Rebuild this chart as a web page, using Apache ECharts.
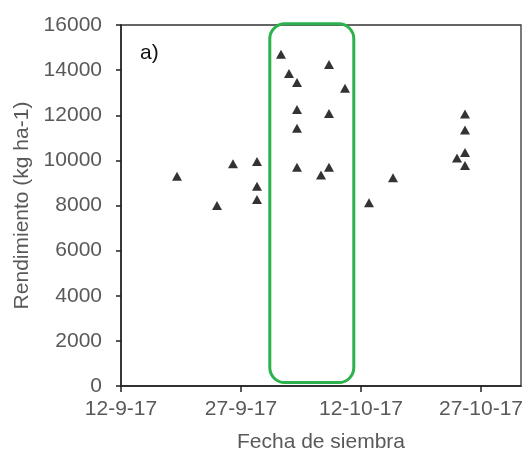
<!DOCTYPE html>
<html>
<head>
<meta charset="utf-8">
<script src="https://cdn.jsdelivr.net/npm/echarts@6/dist/echarts.min.js"></script>
<style>
    html, body { margin: 0; padding: 0; background: #fff; }
    #chart1 { width: 527px; height: 451px; }
</style>
</head>
<body>
<div id="chart1"></div>
<script>
    // fechas de siembra y rendimiento (kg ha-1)
    const startDate = '2017-09-12';
    const sowDates = [
        '2017-09-19', '2017-09-24', '2017-09-26',
        '2017-09-29', '2017-09-29', '2017-09-29',
        '2017-10-02', '2017-10-03',
        '2017-10-04', '2017-10-04', '2017-10-04', '2017-10-04',
        '2017-10-07',
        '2017-10-08', '2017-10-08', '2017-10-08',
        '2017-10-10', '2017-10-13', '2017-10-16',
        '2017-10-24',
        '2017-10-25', '2017-10-25', '2017-10-25', '2017-10-25'
    ];
    const yields = [
        9300, 8000, 9850,
        9950, 8850, 8270,
        14700, 13850,
        13450, 12250, 11420, 9700,
        9350,
        14250, 12080, 9700,
        13200, 8120, 9230,
        10100,
        12050, 11350, 10350, 9770
    ];
    const xTickDays = [0, 15, 30, 45];
    const xMaxDay = 50;
    // recuadro verde: rango de dias y de rendimiento
    const boxDays = [18.6, 29.1];
    const boxYield = [150, 16050];

    function toUTC(s) {
        const p = s.split('-');
        return Date.UTC(+p[0], +p[1] - 1, +p[2]);
    }
    const t0 = toUTC(startDate);
    function dayOf(s) {
        return Math.round((toUTC(s) - t0) / 86400000);
    }
    function dayLabel(d) {
        const dt = new Date(t0 + d * 86400000);
        return dt.getUTCDate() + '-' + (dt.getUTCMonth() + 1) + '-' + String(dt.getUTCFullYear()).slice(2);
    }

    const points = sowDates.map((s, i) => [dayOf(s), yields[i]]);

    const textColor = '#595959';
    const font = 'Liberation Sans';
    const fs = 21;
    const myChart = echarts.init(document.getElementById('chart1'));
    const option = {
        animation: false,
        grid: {
            left: 121, right: 6, top: 25, bottom: 65,
            outerBoundsMode: 'none',
            containLabel: false,
            show: true,
            borderColor: '#333',
            borderWidth: 1.3
        },
        xAxis: {
            type: 'value',
            min: 0,
            max: xMaxDay,
            interval: 15,
            name: 'Fecha de siembra',
            nameLocation: 'middle',
            nameGap: 46,
            nameTextStyle: { color: textColor, fontSize: fs, fontFamily: font },
            splitLine: { show: false },
            axisLine: { lineStyle: { color: '#222', width: 1.5 } },
            axisTick: { inside: false, length: 6, customValues: xTickDays, lineStyle: { color: '#222', width: 1.5 } },
            axisLabel: {
                customValues: xTickDays,
                margin: 13,
                color: textColor,
                fontSize: fs,
                fontFamily: font,
                formatter: v => dayLabel(v)
            }
        },
        yAxis: {
            type: 'value',
            min: 0,
            max: 16000,
            interval: 2000,
            name: 'Rendimiento (kg ha-1)',
            nameLocation: 'middle',
            nameGap: 85,
            nameTextStyle: { color: textColor, fontSize: fs, fontFamily: font },
            splitLine: { show: false },
            axisLine: { show: true, lineStyle: { color: '#222', width: 1.5 } },
            axisTick: { show: true, length: 5, lineStyle: { color: '#222', width: 1.5 } },
            axisLabel: {
                margin: 19,
                color: textColor,
                fontSize: fs,
                fontFamily: font,
                formatter: v => String(v)
            }
        },
        series: [
            {
                type: 'scatter',
                symbol: 'triangle',
                symbolSize: [10, 9],
                itemStyle: { color: '#000' },
                data: points
            }
        ]
    };
    myChart.setOption(option);

    // recuadro verde y etiqueta "a)"
    const p1 = myChart.convertToPixel({ gridIndex: 0 }, [boxDays[0], boxYield[1]]);
    const p2 = myChart.convertToPixel({ gridIndex: 0 }, [boxDays[1], boxYield[0]]);
    myChart.setOption({
        graphic: [
            {
                type: 'rect',
                shape: { x: p1[0], y: p1[1], width: p2[0] - p1[0], height: p2[1] - p1[1], r: 15 },
                style: { fill: 'none', stroke: '#2bb24c', lineWidth: 3 },
                z: 100
            },
            {
                type: 'text',
                left: 140,
                top: 43,
                style: { text: 'a)', fill: '#111', fontSize: fs, fontFamily: font }
            }
        ]
    });
</script>
</body>
</html>
